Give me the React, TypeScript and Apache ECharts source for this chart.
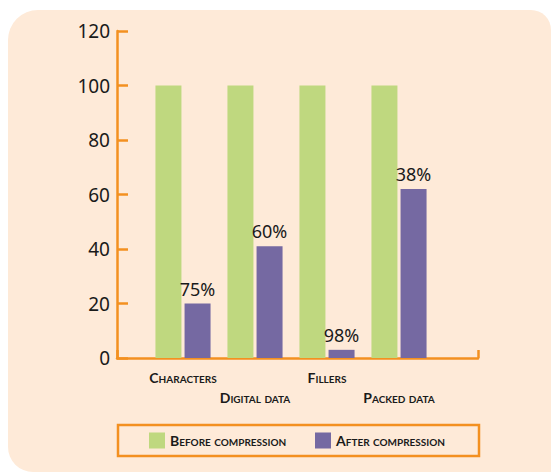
import React, { useEffect, useRef } from "react";
import * as echarts from "echarts";

const categories = ["Characters", "Digital data", "Fillers", "Packed data"];
const beforeValues = [100, 100, 100, 100];
const afterValues = [20, 41, 3, 62];
const afterLabels = ["75%", "60%", "98%", "38%"];
const seriesNames = ["Before compression", "After compression"];
const yMin = 0;
const yMax = 120;
const yInterval = 20;

const ORANGE = "#F39020";
const GREEN = "#BFD87F";
const PURPLE = "#7569A2";
const BG = "#FEEAD8";
const TEXT = "#1a1a1a";
const SC_FONT = "Lato; font-variant: small-caps";
const SC_SIZE = 14;

export default function App() {
  const ref = useRef<HTMLDivElement>(null);
  useEffect(() => {
    if (!ref.current) return;
    const chart = echarts.init(ref.current, undefined, { renderer: "svg" });
    const legendText = {
      fontFamily: SC_FONT,
      fontWeight: "bold",
      fontSize: SC_SIZE,
      color: TEXT,
    };
    chart.setOption({
      animation: false,
      backgroundColor: "#ffffff",
      graphic: [
        {
          type: "rect",
          z: -10,
          silent: true,
          shape: { x: 8, y: 10, width: 543, height: 462, r: [30, 20, 0, 25] },
          style: { fill: BG },
        },
        {
          type: "rect",
          z: 5,
          silent: true,
          shape: { x: 118, y: 425, width: 361, height: 31 },
          style: { fill: "none", stroke: ORANGE, lineWidth: 2.5 },
        },
      ],
      legend: [
        {
          data: [seriesNames[0]],
          left: 149,
          top: 431,
          padding: 0,
          itemWidth: 16,
          itemHeight: 16,
          icon: "rect",
          textStyle: legendText,
        },
        {
          data: [seriesNames[1]],
          left: 315,
          top: 431,
          padding: 0,
          itemWidth: 16,
          itemHeight: 16,
          icon: "rect",
          textStyle: legendText,
        },
      ],
      grid: [
        { left: 117, top: 31, width: 361, height: 327, outerBoundsMode: "none", containLabel: false },
        { left: 147, top: 31, width: 288, height: 327, outerBoundsMode: "none", containLabel: false },
      ],
      xAxis: [
        {
          type: "value",
          gridIndex: 0,
          position: "bottom",
          min: 0,
          max: 1,
          interval: 1,
          axisLine: { show: true, lineStyle: { color: ORANGE, width: 2.5 } },
          axisTick: { show: true, inside: true, length: 8, lineStyle: { color: ORANGE, width: 2.5 } },
          axisLabel: { show: false },
          splitLine: { show: false },
        },
        {
          type: "category",
          gridIndex: 1,
          position: "bottom",
          data: categories,
          axisLine: { show: false },
          axisTick: { show: false },
          axisLabel: {
            interval: 0,
            margin: 10,
            fontFamily: SC_FONT,
            fontWeight: "bold",
            fontSize: SC_SIZE,
            color: TEXT,
            formatter: (v: string, i: number) => (i % 2 === 0 ? v : ""),
          },
        },
        {
          type: "category",
          gridIndex: 1,
          position: "bottom",
          data: categories,
          axisLine: { show: false },
          axisTick: { show: false },
          axisLabel: {
            interval: 0,
            margin: 30,
            fontFamily: SC_FONT,
            fontWeight: "bold",
            fontSize: SC_SIZE,
            color: TEXT,
            formatter: (v: string, i: number) => (i % 2 === 1 ? v : ""),
          },
        },
      ],
      yAxis: [
        {
          type: "value",
          gridIndex: 0,
          min: yMin,
          max: yMax,
          interval: yInterval,
          axisLine: { show: true, lineStyle: { color: ORANGE, width: 2.5 } },
          axisTick: { show: true, inside: true, length: 11, lineStyle: { color: ORANGE, width: 2.5 } },
          axisLabel: { margin: 7, fontFamily: "Noto Sans", fontSize: 19, color: TEXT },
          splitLine: { show: false },
        },
        {
          type: "value",
          gridIndex: 1,
          min: yMin,
          max: yMax,
          interval: yInterval,
          axisLine: { show: false },
          axisTick: { show: false },
          axisLabel: { show: false },
          splitLine: { show: false },
        },
      ],
      series: [
        {
          name: seriesNames[0],
          type: "bar",
          xAxisIndex: 1,
          yAxisIndex: 1,
          data: beforeValues,
          barWidth: 26,
          barGap: "12%",
          itemStyle: { color: GREEN },
        },
        {
          name: seriesNames[1],
          type: "bar",
          xAxisIndex: 1,
          yAxisIndex: 1,
          data: afterValues,
          barWidth: 26,
          barGap: "12%",
          itemStyle: { color: PURPLE },
          label: {
            show: true,
            position: "top",
            distance: 6,
            fontFamily: "Noto Sans",
            fontSize: 18,
            color: TEXT,
            formatter: (p: any) => afterLabels[p.dataIndex],
          },
        },
      ],
    });
    return () => chart.dispose();
  }, []);
  return (
    <div
      ref={ref}
      style={{ position: "fixed", left: 0, top: 0, width: 551, height: 473 }}
    />
  );
}
